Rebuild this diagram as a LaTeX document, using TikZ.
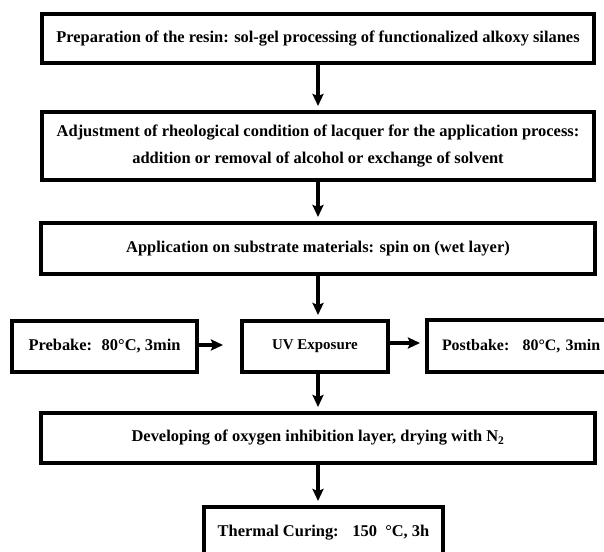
\documentclass[tikz,border=0pt]{standalone}
\usepackage{fontspec}
\setmainfont{Liberation Serif}
\usetikzlibrary{arrows.meta}
\tikzset{
  stepbox/.style={draw=black, line width=4bp, inner sep=0pt, align=center,
    font=\fontsize{16.5}{27}\selectfont\bfseries, fill=white},
  arr/.style={line width=4bp, -{Stealth[length=12bp,width=11bp,inset=2bp]}, shorten >=4bp},
}
\begin{document}
\begin{tikzpicture}[x=1bp,y=-1bp]
\useasboundingbox (0,0) rectangle (604,552);
\clip (0,0) rectangle (604,552);
\fill[white] (0,0) rectangle (604,552);
\node[stepbox, minimum width=552bp, minimum height=49bp] (b1) at (318,38.5)
  {Preparation of the resin: sol-gel processing of functionalized alkoxy silanes};
\node[stepbox, minimum width=552bp, minimum height=68bp] (b2) at (318,146)
  {Adjustment of rheological condition of lacquer for the application process:\\
   addition or removal of alcohol or exchange of solvent};
\node[stepbox, minimum width=554bp, minimum height=51bp] (b3) at (318,248.5)
  {Application on substrate materials: spin on (wet layer)};
\node[stepbox, minimum width=185bp, minimum height=51bp] (pre) at (104.5,346.5)
  {Prebake: \ 80°C, 3min};
\node[stepbox, minimum width=146bp, minimum height=51bp,
  font=\fontsize{15}{20}\selectfont\bfseries] (uv) at (315,346.5)
  {\raisebox{-3bp}{UV Exposure}};
\node[stepbox, anchor=west, text width=190bp, align=left, inner xsep=15bp,
  minimum height=52bp, font=\fontsize{16}{20}\selectfont\bfseries] (post) at (425,346)
  {Postbake: \ 80°C, 3min};
\node[stepbox, minimum width=553bp, minimum height=50bp] (dev) at (318,438)
  {Developing of oxygen inhibition layer, drying with N\textsubscript{2}};
\node[stepbox, anchor=north, minimum width=239bp, minimum height=52bp] (th) at (323.5,505)
  {Thermal Curing: \ \ 150 \ °C, 3h};
\draw[arr] (b1.south) -- (b2.north);
\draw[arr] (b2.south) -- (b2.south |- b3.north);
\draw[arr] (b3.south) -- (b3.south |- uv.north);
\draw[arr, shorten >=17bp] (pre.east |- 0,345) -- (uv.west |- 0,345);
\draw[arr, shorten >=5bp] (uv.east |- 0,343) -- (post.west |- 0,343);
\draw[arr] (b3.south |- uv.south) -- (b3.south |- dev.north);
\draw[arr] (dev.south -| b3.south) -- (b3.south |- th.north);
\end{tikzpicture}
\end{document}
